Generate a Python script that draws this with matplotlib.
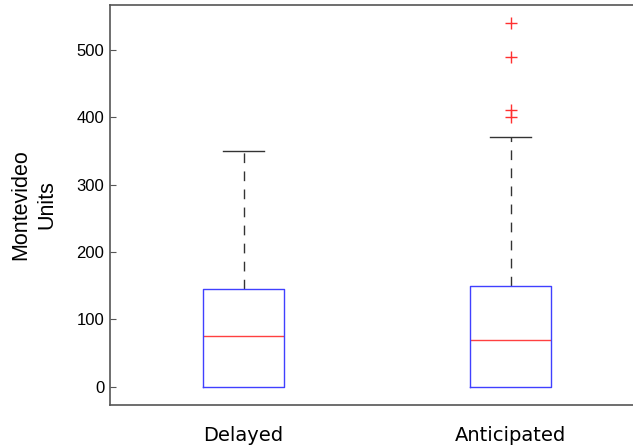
import numpy as np
import matplotlib
matplotlib.use("Agg")
import matplotlib.pyplot as plt

# summary values for each group
groups = ["Delayed", "Anticipated"]
q1 = [0, 0]
median = [75, 70]
q3 = [145, 150]
whisk_lo = [0, 0]
whisk_hi = [350, 371]
outliers = [[], [541, 490, 411, 400]]

stats = []
for i, name in enumerate(groups):
    stats.append(dict(label=name, med=median[i], q1=q1[i], q3=q3[i],
                      whislo=whisk_lo[i], whishi=whisk_hi[i],
                      fliers=outliers[i]))

fig = plt.figure(figsize=(6.33, 4.48), dpi=100)
# axes runs a little past the right edge of the figure
ax = fig.add_axes([110 / 633, 43 / 448, 534 / 633, 400 / 448])

parts = ax.bxp(stats, positions=[1, 2], widths=0.3, showfliers=True,
               boxprops=dict(color="#4040ff", linewidth=1),
               medianprops=dict(color="#ff4040", linewidth=1),
               whiskerprops=dict(color="#333333", linewidth=1, linestyle=(0, (7, 6))),
               capprops=dict(color="#333333", linewidth=1),
               flierprops=dict(marker="+", markeredgecolor="#ff3030", markersize=9,
                               linestyle="none", markeredgewidth=1))
# lower whiskers sit on the box edge, so hide the bottom caps
for cap in parts["caps"][0::2]:
    cap.set_visible(False)
for box in parts["boxes"]:
    box.set_zorder(3)

ax.set_xlim(0.5, 2.5)
ax.set_ylim(-27, 567)
ax.set_yticks([0, 100, 200, 300, 400, 500])
ax.set_xticks([1, 2])
ax.set_xticklabels(groups, fontsize=14, family="DejaVu Sans")
ax.tick_params(axis="x", length=0, pad=15)
ax.tick_params(axis="y", length=4, direction="in", pad=4, labelsize=12, color="#555555")
for lab in ax.get_yticklabels():
    lab.set_family("Liberation Sans")

for s in ax.spines.values():
    s.set_color("#555555")
    s.set_linewidth(1.2)

ax.set_ylabel("Montevideo\nUnits", fontsize=15.5, family="Liberation Sans",
              labelpad=14, linespacing=1.3)

fig.savefig("out.png", dpi=100)
